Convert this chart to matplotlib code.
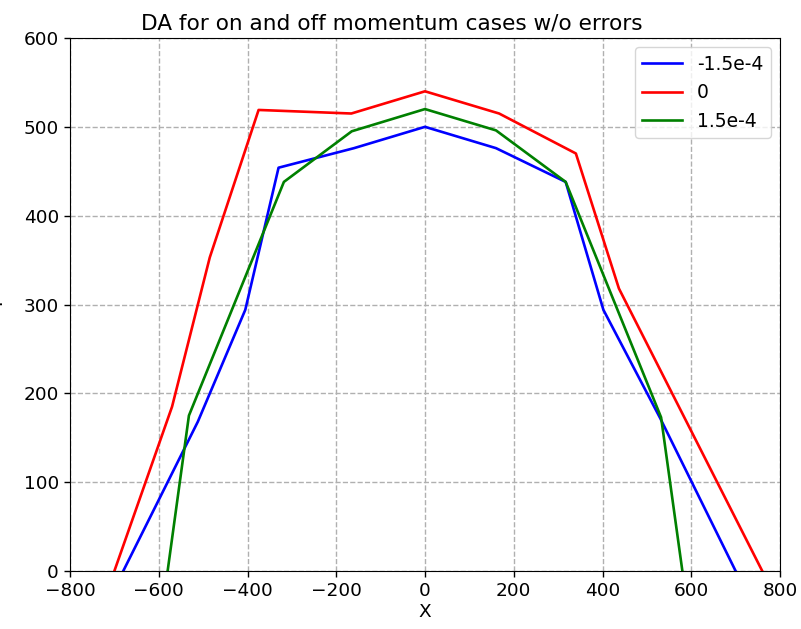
import numpy as np
import matplotlib
matplotlib.use("Agg")
import matplotlib.pyplot as plt

# DA boundaries for the three momentum offsets
x_neg = [-680, -512, -405, -330, -160, 0, 160, 317, 402, 530, 700]
y_neg = [0, 168, 294, 454, 476, 500, 476, 438, 294, 172, 0]

x_zero = [-700, -570, -485, -375, -166, 0, 167, 340, 437, 760]
y_zero = [0, 185, 353, 519, 515, 540, 515, 470, 318, 0]

x_pos = [-580, -532, -318, -165, 0, 160, 317, 532, 580]
y_pos = [0, 175, 438, 495, 520, 496, 438, 173, 0]

labels = ["-1.5e-4", "0", "1.5e-4"]

plt.rcParams["font.size"] = 13.3

fig = plt.figure(figsize=(8.01, 6.29), dpi=100)
ax = fig.add_axes([70 / 801, 58 / 629, 710 / 801, 533 / 629])

ax.plot(x_neg, y_neg, color="blue", linewidth=1.9, label=labels[0])
ax.plot(x_zero, y_zero, color="red", linewidth=1.9, label=labels[1])
ax.plot(x_pos, y_pos, color="green", linewidth=1.9, label=labels[2])

ax.set_xlim(-800, 800)
ax.set_ylim(0, 600)
ax.grid(True, linestyle="--", color="#b0b0b0", linewidth=1.0)
ax.tick_params(length=4.5, width=1.0)

# title sits left of the axes centre in the original
ax.set_title("DA for on and off momentum cases w/o errors", fontsize=15.6, x=0.4528)
ax.set_xlabel("X", labelpad=2)
ax.set_ylabel("Y")
ax.yaxis.set_label_coords(-0.089, 0.5)
ax.legend(loc="upper right", fontsize=13.5, handlelength=2.1)

fig.savefig("out.png", dpi=100)
